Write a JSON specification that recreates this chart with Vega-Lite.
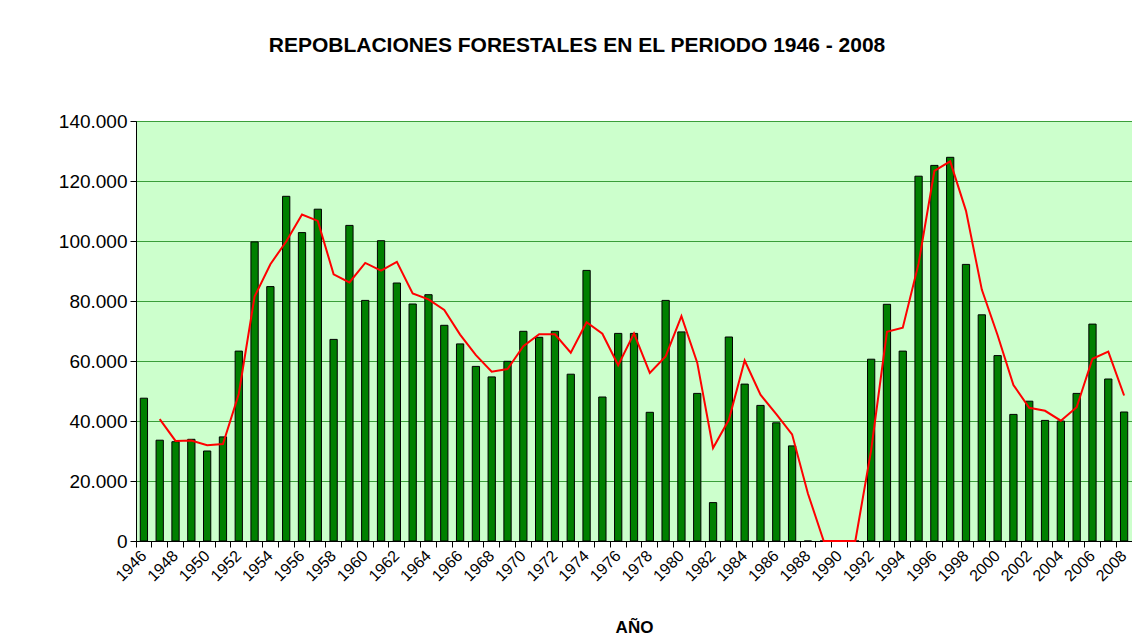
{
  "$schema": "https://vega.github.io/schema/vega-lite/v6.json",
  "autosize": "none",
  "width": 996,
  "height": 420,
  "padding": {"left": 136, "top": 121, "right": 0, "bottom": 103},
  "background": "#ffffff",
  "title": {
    "text": "REPOBLACIONES FORESTALES EN EL PERIODO 1946 - 2008",
    "font": "Liberation Sans",
    "fontSize": 21,
    "fontWeight": "bold",
    "color": "#000000",
    "anchor": "middle",
    "dx": -57,
    "offset": 56
  },
  "config": {
    "view": {"fill": "#CCFFCC", "stroke": "#333333", "strokeWidth": 1},
    "font": "Liberation Sans"
  },
  "data": {
    "values": [
      {"anio": 1946, "superficie": 47600, "media": null},
      {"anio": 1947, "superficie": 33600, "media": 40600},
      {"anio": 1948, "superficie": 33100, "media": 33350},
      {"anio": 1949, "superficie": 33900, "media": 33500},
      {"anio": 1950, "superficie": 30000, "media": 31950},
      {"anio": 1951, "superficie": 34700, "media": 32350},
      {"anio": 1952, "superficie": 63300, "media": 49000},
      {"anio": 1953, "superficie": 99700, "media": 81500},
      {"anio": 1954, "superficie": 84800, "media": 92250},
      {"anio": 1955, "superficie": 114900, "media": 99850},
      {"anio": 1956, "superficie": 102800, "media": 108850},
      {"anio": 1957, "superficie": 110600, "media": 106700},
      {"anio": 1958, "superficie": 67200, "media": 88900},
      {"anio": 1959, "superficie": 105200, "media": 86200},
      {"anio": 1960, "superficie": 80200, "media": 92700},
      {"anio": 1961, "superficie": 100100, "media": 90150},
      {"anio": 1962, "superficie": 86000, "media": 93050},
      {"anio": 1963, "superficie": 79000, "media": 82500},
      {"anio": 1964, "superficie": 82100, "media": 80550},
      {"anio": 1965, "superficie": 71900, "media": 77000},
      {"anio": 1966, "superficie": 65700, "media": 68800},
      {"anio": 1967, "superficie": 58200, "media": 61950},
      {"anio": 1968, "superficie": 54700, "media": 56450},
      {"anio": 1969, "superficie": 59900, "media": 57300},
      {"anio": 1970, "superficie": 69900, "media": 64900},
      {"anio": 1971, "superficie": 67900, "media": 68900},
      {"anio": 1972, "superficie": 69900, "media": 68900},
      {"anio": 1973, "superficie": 55600, "media": 62750},
      {"anio": 1974, "superficie": 90200, "media": 72900},
      {"anio": 1975, "superficie": 48000, "media": 69100},
      {"anio": 1976, "superficie": 69200, "media": 58600},
      {"anio": 1977, "superficie": 69200, "media": 69200},
      {"anio": 1978, "superficie": 42900, "media": 56050},
      {"anio": 1979, "superficie": 80200, "media": 61550},
      {"anio": 1980, "superficie": 69700, "media": 74950},
      {"anio": 1981, "superficie": 49200, "media": 59450},
      {"anio": 1982, "superficie": 12800, "media": 31000},
      {"anio": 1983, "superficie": 68000, "media": 40400},
      {"anio": 1984, "superficie": 52300, "media": 60150},
      {"anio": 1985, "superficie": 45200, "media": 48750},
      {"anio": 1986, "superficie": 39400, "media": 42300},
      {"anio": 1987, "superficie": 31700, "media": 35550},
      {"anio": 1988, "superficie": 0, "media": 15850},
      {"anio": 1989, "superficie": 0, "media": 0},
      {"anio": 1990, "superficie": 0, "media": 0},
      {"anio": 1991, "superficie": 0, "media": 0},
      {"anio": 1992, "superficie": 60600, "media": 30300},
      {"anio": 1993, "superficie": 78900, "media": 69750},
      {"anio": 1994, "superficie": 63300, "media": 71100},
      {"anio": 1995, "superficie": 121600, "media": 92450},
      {"anio": 1996, "superficie": 125200, "media": 123400},
      {"anio": 1997, "superficie": 127900, "media": 126550},
      {"anio": 1998, "superficie": 92200, "media": 110050},
      {"anio": 1999, "superficie": 75400, "media": 83800},
      {"anio": 2000, "superficie": 61800, "media": 68600},
      {"anio": 2001, "superficie": 42200, "media": 52000},
      {"anio": 2002, "superficie": 46600, "media": 44400},
      {"anio": 2003, "superficie": 40200, "media": 43400},
      {"anio": 2004, "superficie": 40000, "media": 40100},
      {"anio": 2005, "superficie": 49200, "media": 44600},
      {"anio": 2006, "superficie": 72300, "media": 60750},
      {"anio": 2007, "superficie": 54000, "media": 63150},
      {"anio": 2008, "superficie": 43000, "media": 48500}
    ]
  },
  "encoding": {
    "x": {
      "field": "anio",
      "type": "ordinal",
      "scale": {"paddingInner": 0, "paddingOuter": 0},
      "axis": {
        "title": "AÑO",
        "titleFont": "Liberation Sans",
        "titleFontSize": 17,
        "titleFontWeight": "bold",
        "titleColor": "#000000",
        "titlePadding": 36,
        "bandPosition": 0,
        "labelAngle": -45,
        "labelAlign": "right",
        "labelBaseline": "middle",
        "labelFont": "Liberation Sans",
        "labelFontSize": 16,
        "labelColor": "#000000",
        "labelPadding": 6,
        "labelExpr": "datum.value % 2 == 0 ? datum.label : ''",
        "labelOverlap": false,
        "tickColor": "#000000",
        "tickSize": 6,
        "domainColor": "#000000",
        "grid": false
      }
    }
  },
  "layer": [
    {
      "mark": {"type": "bar", "width": {"band": 0.46}, "fill": "#008000", "stroke": "#000000", "strokeWidth": 1},
      "encoding": {
        "y": {
          "field": "superficie",
          "type": "quantitative",
          "scale": {"domain": [0, 140000], "nice": false},
          "axis": {
            "title": null,
            "values": [0, 20000, 40000, 60000, 80000, 100000, 120000, 140000],
            "labelExpr": "replace(format(datum.value, ','), ',', '.')",
            "labelFont": "Liberation Sans",
            "labelFontSize": 19,
            "labelColor": "#000000",
            "labelPadding": 3,
            "tickColor": "#000000",
            "tickSize": 6,
            "domainColor": "#000000",
            "grid": true,
            "gridColor": "#3A9E3A",
            "gridWidth": 1.2
          }
        }
      }
    },
    {
      "mark": {"type": "line", "color": "#FF0000", "strokeWidth": 2},
      "encoding": {
        "y": {"field": "media", "type": "quantitative"}
      }
    }
  ]
}
